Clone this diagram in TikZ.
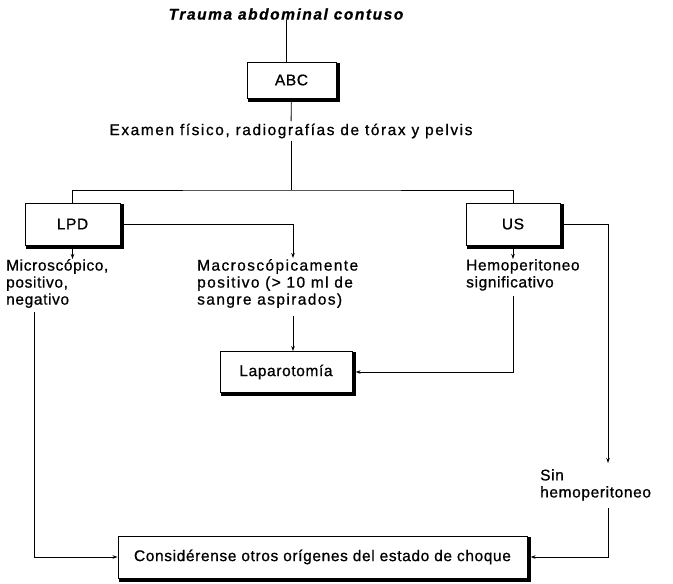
\documentclass[tikz,border=0pt]{standalone}
\usepackage{fontspec}
\setmainfont{Liberation Sans}[LetterSpace=4, FakeBold=0.8]
\usetikzlibrary{arrows.meta,calc}
\newcommand\myfs{\fontsize{15.5}{17}\selectfont}
\newcommand\lsp[1]{\addfontfeatures{LetterSpace=#1}}
\begin{document}
\begin{tikzpicture}[x=1pt,y=-1pt,
  box/.style={draw, line width=0.9pt, fill=white, font=\myfs},
  txt/.style={inner sep=0pt, align=left, anchor=north west, font=\myfs},
  conn/.style={line width=0.8pt},
  shadowline/.style={line width=3.2pt, line cap=rect},
  arr/.style={conn, -{Stealth[length=5pt,width=3.5pt]}}]
\useasboundingbox (0,0) rectangle (673,584);
\node[font={\myfs\bfseries\itshape\lsp{10}}, inner sep=0pt] (title) at (286,14) {Trauma abdominal contuso};
\node[box, minimum width=89pt, minimum height=36pt] (abc) at (291.5,80) {ABC};
\node[font={\myfs\lsp{10}}, inner sep=2pt] (exam) at (291,131) {Examen físico, radiografías de tórax y pelvis};
\coordinate (j) at (291,190);
\node[box, minimum width=95pt, minimum height=42pt] (lpd) at (72.5,224) {LPD};
\node[box, minimum width=94pt, minimum height=42pt] (us) at (513,224) {US};
\node[txt] (micro) at (6,259) {Microscópico,\\positivo,\\negativo};
\node[txt, font={\myfs\lsp{9}}] (macro) at (197,259) {Macroscópicamente\\positivo (> 10 ml de\\sangre aspirados)};
\node[txt] (hemo) at (466,259) {Hemoperitoneo\\significativo};
\node[box, minimum width=132pt, minimum height=41pt] (lap) at (286,372) {Laparotomía};
\node[txt] (sin) at (540,469) {Sin\\hemoperitoneo};
\node[box, minimum width=409pt, minimum height=42pt] (cons) at (322.5,557) {Considérense otros orígenes del estado de choque};
\foreach \n in {abc,lpd,us,lap,cons}{
  \draw[shadowline] ($(\n.north east)+(1.6,3)$) -- ($(\n.south east)+(1.6,1.6)$) -- ($(\n.south west)+(3,1.6)$);
}
\coordinate (mtop) at (293,258);
\coordinate (mbot) at (293,316);
\coordinate (mout) at (34,312);
\coordinate (hbot) at (513,296);
\coordinate (sinin) at (608,463);
\coordinate (sout) at (608,508);
\draw[conn] (title) -- (title |- abc.north);
\draw[conn] (abc) -- (exam);
\draw[conn] (exam) -- (j);
\draw[conn] (lpd.north) |- (j) -| (us.north);
\draw[arr] (lpd.east) -| (mtop);
\draw[arr] (lpd.south) -- (lpd.south |- micro.north);
\draw[arr] (us.south) -- (us.south |- hemo.north);
\draw[arr] ([shift={(3.2,0)}]us.east) -| (sinin);
\draw[arr] (mbot) -- (mbot |- lap.north);
\draw[arr] (hbot) |- ([shift={(3.2,0)}]lap.east);
\draw[arr] (mout) |- (cons.west);
\draw[arr] (sout) |- ([shift={(3.2,0)}]cons.east);
\end{tikzpicture}
\end{document}
